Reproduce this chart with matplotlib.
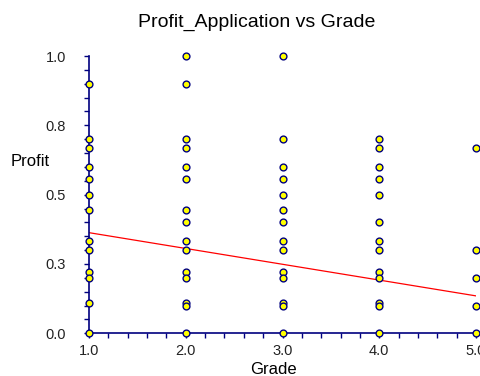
import numpy as np
import matplotlib
matplotlib.use('Agg')
import matplotlib.pyplot as plt
from matplotlib.ticker import MultipleLocator

plt.rcParams['font.family'] = ['Liberation Sans', 'DejaVu Sans']

# data
grade_1 = [0.9, 0.7, 0.667, 0.6, 0.556, 0.5, 0.444, 0.333, 0.3, 0.222, 0.2, 0.111, 0.0]
grade_2 = [1.0, 0.9, 0.7, 0.667, 0.6, 0.556, 0.444, 0.4, 0.333, 0.3, 0.222, 0.2, 0.111, 0.1, 0.0]
grade_3 = [1.0, 0.7, 0.6, 0.556, 0.5, 0.444, 0.4, 0.333, 0.3, 0.222, 0.2, 0.111, 0.1, 0.0]
grade_4 = [0.7, 0.667, 0.6, 0.556, 0.5, 0.4, 0.333, 0.3, 0.222, 0.2, 0.111, 0.1, 0.0]
grade_5 = [0.667, 0.3, 0.2, 0.1, 0.0]
profit = [grade_1, grade_2, grade_3, grade_4, grade_5]
grades = [1, 2, 3, 4, 5]

# fitted line endpoints
fit_x = [1.0, 5.0]
fit_y = [0.363, 0.135]

yticks = [0.0, 0.25, 0.5, 0.75, 1.0]
ytick_labels = ['0.0', '0.3', '0.5', '0.8', '1.0']
xticks = [1, 2, 3, 4, 5]
xtick_labels = ['1.0', '2.0', '3.0', '4.0', '5.0']

navy = '#00007f'

fig = plt.figure(figsize=(4.8, 3.76), dpi=100)
ax = fig.add_axes([0.1854, 0.1135, 0.8063, 0.7375])

for g, vals in zip(grades, profit):
    ax.scatter([g] * len(vals), vals, s=24, c='yellow', edgecolors=navy,
               linewidths=1.0, zorder=3, clip_on=False)

ax.plot(fit_x, fit_y, color='red', lw=0.9, zorder=2)

ax.set_xlim(1, 5)
ax.set_ylim(0, 1)
ax.set_xticks(xticks)
ax.set_xticklabels(xtick_labels)
ax.set_yticks(yticks)
ax.set_yticklabels(ytick_labels)
ax.xaxis.set_minor_locator(MultipleLocator(0.2))
ax.yaxis.set_minor_locator(MultipleLocator(0.05))

for s in ['top', 'right']:
    ax.spines[s].set_visible(False)
for s in ['left', 'bottom']:
    ax.spines[s].set_color(navy)
    ax.spines[s].set_linewidth(1.2)

ax.tick_params(which='both', direction='out', color=navy, length=3.5, width=1,
               labelsize=10.5, labelcolor='#222222')
ax.tick_params(axis='y', which='both', pad=13)
ax.tick_params(axis='x', which='both', pad=4.5)

fig.text(273.5 / 480, 0.004, 'Grade', fontsize=12, ha='center', va='baseline')
ax.text(-0.152, 0.62, 'Profit', transform=ax.transAxes, fontsize=12,
        ha='center', va='center')
fig.text(0.535, 0.941, 'Profit_Application vs Grade', fontsize=14,
         ha='center', va='center')

fig.savefig('out.png', dpi=100)
